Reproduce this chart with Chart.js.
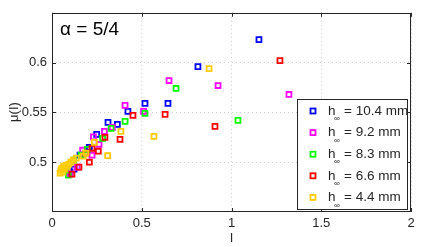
<!DOCTYPE html>
<html>
<head>
<meta charset="utf-8">
<script src="https://cdn.jsdelivr.net/npm/chart.js@4.4.1/dist/chart.umd.min.js"></script>
<style>
    body { margin: 0; background: #fff; }
    #wrap { width: 436px; height: 247px; position: relative; }
</style>
</head>
<body>
<div id="wrap"><canvas id="muChart"></canvas></div>
<script>
// Données
const hLabels = ['10.4', '9.2', '8.3', '6.6', '4.4'];
const seriesColors = ['#0000ff', '#ff00ff', '#00ff00', '#ff0000', '#ffcc00'];

const iBlue = [0.100, 0.123, 0.156, 0.208, 0.249, 0.312, 0.364, 0.423, 0.518, 0.646, 0.813, 1.153];
const muBlue = [0.490, 0.493, 0.507, 0.515, 0.528, 0.540, 0.538, 0.551, 0.559, 0.559, 0.596, 0.623];

const iMagenta = [0.100, 0.140, 0.171, 0.223, 0.231, 0.262, 0.292, 0.336, 0.407, 0.510, 0.652, 0.925, 1.320];
const muMagenta = [0.488, 0.495, 0.512, 0.507, 0.5255, 0.518, 0.531, 0.535, 0.557, 0.551, 0.582, 0.577, 0.568];

const iGreen = [0.091, 0.119, 0.162, 0.197, 0.282, 0.329, 0.407, 0.518, 0.691, 1.036];
const muGreen = [0.487, 0.502, 0.507, 0.513, 0.524, 0.534, 0.541, 0.549, 0.574, 0.542];

const iRed = [0.111, 0.150, 0.189, 0.208, 0.223, 0.258, 0.295, 0.379, 0.451, 0.630, 0.908, 1.270];
const muRed = [0.488, 0.495, 0.509, 0.500, 0.514, 0.511, 0.525, 0.523, 0.547, 0.548, 0.536, 0.602];

const iYellow = [0.045, 0.050, 0.055, 0.060, 0.065, 0.070, 0.078, 0.085, 0.095, 0.105, 0.118, 0.135, 0.174, 0.189, 0.236, 0.310, 0.384, 0.568, 0.875];
const muYellow = [0.489, 0.492, 0.494, 0.490, 0.496, 0.493, 0.497, 0.495, 0.498, 0.500, 0.502, 0.504, 0.506, 0.509, 0.520, 0.5065, 0.531, 0.526, 0.594];

const xTicks = [0, 0.5, 1, 1.5, 2];
const xTickLabels = ['0', '0.5', '1', '1.5', '2'];
const yTicks = [0.5, 0.55, 0.6];
const yTickLabels = ['0.5', '0.55', '0.6'];

const FONT = '"Liberation Sans", Arial, Helvetica, sans-serif';
const INK = '#262626';

function toPoints(xs, ys) {
    return xs.map((x, i) => ({ x: x, y: ys[i] }));
}

const allSeries = [
    toPoints(iBlue, muBlue),
    toPoints(iMagenta, muMagenta),
    toPoints(iGreen, muGreen),
    toPoints(iRed, muRed),
    toPoints(iYellow, muYellow)
];

// Cadre, graduations internes, titre, étiquettes et légende
const decorPlugin = {
    id: 'decor',
    afterDraw(chart) {
        const ctx = chart.ctx;
        const a = chart.chartArea;
        const sx = chart.scales.x;
        const sy = chart.scales.y;
        ctx.save();

        // cadre
        ctx.strokeStyle = INK;
        ctx.lineWidth = 1;
        ctx.strokeRect(Math.round(a.left) + 0.5, Math.round(a.top) + 0.5,
            Math.round(a.right - a.left) - 1, Math.round(a.bottom - a.top) - 1);

        // graduations vers l'intérieur
        const tl = 4;
        ctx.beginPath();
        xTicks.forEach(v => {
            const px = Math.round(sx.getPixelForValue(v)) + 0.5;
            ctx.moveTo(px, a.bottom); ctx.lineTo(px, a.bottom - tl);
            ctx.moveTo(px, a.top); ctx.lineTo(px, a.top + tl);
        });
        yTicks.forEach(v => {
            const py = Math.round(sy.getPixelForValue(v)) + 0.5;
            ctx.moveTo(a.left, py); ctx.lineTo(a.left + tl, py);
            ctx.moveTo(a.right, py); ctx.lineTo(a.right - tl, py);
        });
        ctx.stroke();

        // titre dans le graphique
        ctx.fillStyle = '#000';
        ctx.font = '19px ' + FONT;
        ctx.textAlign = 'left';
        ctx.textBaseline = 'middle';
        ctx.fillText('α = 5/4', 60, 30);

        // titres des axes
        ctx.fillStyle = INK;
        ctx.font = '13px ' + FONT;
        ctx.textAlign = 'center';
        ctx.fillText('I', (a.left + a.right) / 2, 238);
        ctx.save();
        ctx.translate(14, 112);
        ctx.rotate(-Math.PI / 2);
        ctx.fillText('μ(I)', 0, 0);
        ctx.restore();

        // légende
        const lx = 297, ly = 99, lw = 110, lh = 110;
        ctx.fillStyle = '#fff';
        ctx.fillRect(lx, ly, lw, lh);
        ctx.strokeStyle = INK;
        ctx.lineWidth = 1;
        ctx.strokeRect(lx + 0.5, ly + 0.5, lw, lh);
        hLabels.forEach((h, i) => {
            const cy = 111 + i * 21.6;
            ctx.strokeStyle = seriesColors[i];
            ctx.lineWidth = 1.8;
            ctx.strokeRect(310.5, cy - 2.5, 5, 5);
            ctx.fillStyle = INK;
            ctx.textAlign = 'left';
            ctx.textBaseline = 'middle';
            ctx.font = '13.5px ' + FONT;
            ctx.fillText('h', 328, cy);
            ctx.font = '8px ' + FONT;
            ctx.fillText('∞', 334, cy + 8);
            ctx.font = '13.5px ' + FONT;
            ctx.fillText('= ' + h + ' mm', 344, cy);
        });
        ctx.restore();
    }
};

const ctx = document.getElementById('muChart').getContext('2d');
const chart = new Chart(ctx, {
    type: 'scatter',
    data: {
        datasets: allSeries.map((pts, i) => ({
            label: 'h∞ = ' + hLabels[i] + ' mm',
            data: pts,
            order: allSeries.length - i,
            pointStyle: 'rect',
            pointRadius: 3.5,
            pointBorderWidth: 1.8,
            borderColor: seriesColors[i],
            backgroundColor: 'rgba(0,0,0,0)',
            pointHoverRadius: 3.5
        }))
    },
    options: {
        responsive: true,
        maintainAspectRatio: false,
        animation: false,
        events: [],
        layout: { padding: { left: 0, right: 25, top: 12, bottom: 0 } },
        plugins: {
            legend: { display: false },
            tooltip: { enabled: false }
        },
        scales: {
            x: {
                type: 'linear',
                min: 0,
                max: 2,
                afterBuildTicks: (scale) => { scale.ticks = xTicks.map(v => ({ value: v })); },
                afterFit: (scale) => { scale.height = 35; },
                ticks: {
                    padding: 4,
                    color: INK,
                    font: { family: FONT, size: 13 },
                    maxRotation: 0,
                    callback: (v, i) => xTickLabels[i]
                },
                grid: { color: '#cfcfcf', drawTicks: false, lineWidth: 1 },
                border: { display: false, dash: [1, 3] }
            },
            y: {
                type: 'linear',
                min: 0.45,
                max: 0.65,
                afterBuildTicks: (scale) => { scale.ticks = yTicks.map(v => ({ value: v })); },
                afterFit: (scale) => { scale.width = 52; },
                ticks: {
                    padding: 5,
                    color: INK,
                    font: { family: FONT, size: 13 },
                    callback: (v, i) => yTickLabels[i]
                },
                grid: { color: '#cfcfcf', drawTicks: false, lineWidth: 1 },
                border: { display: false, dash: [1, 3] }
            }
        }
    },
    plugins: [decorPlugin]
});
</script>
</body>
</html>
